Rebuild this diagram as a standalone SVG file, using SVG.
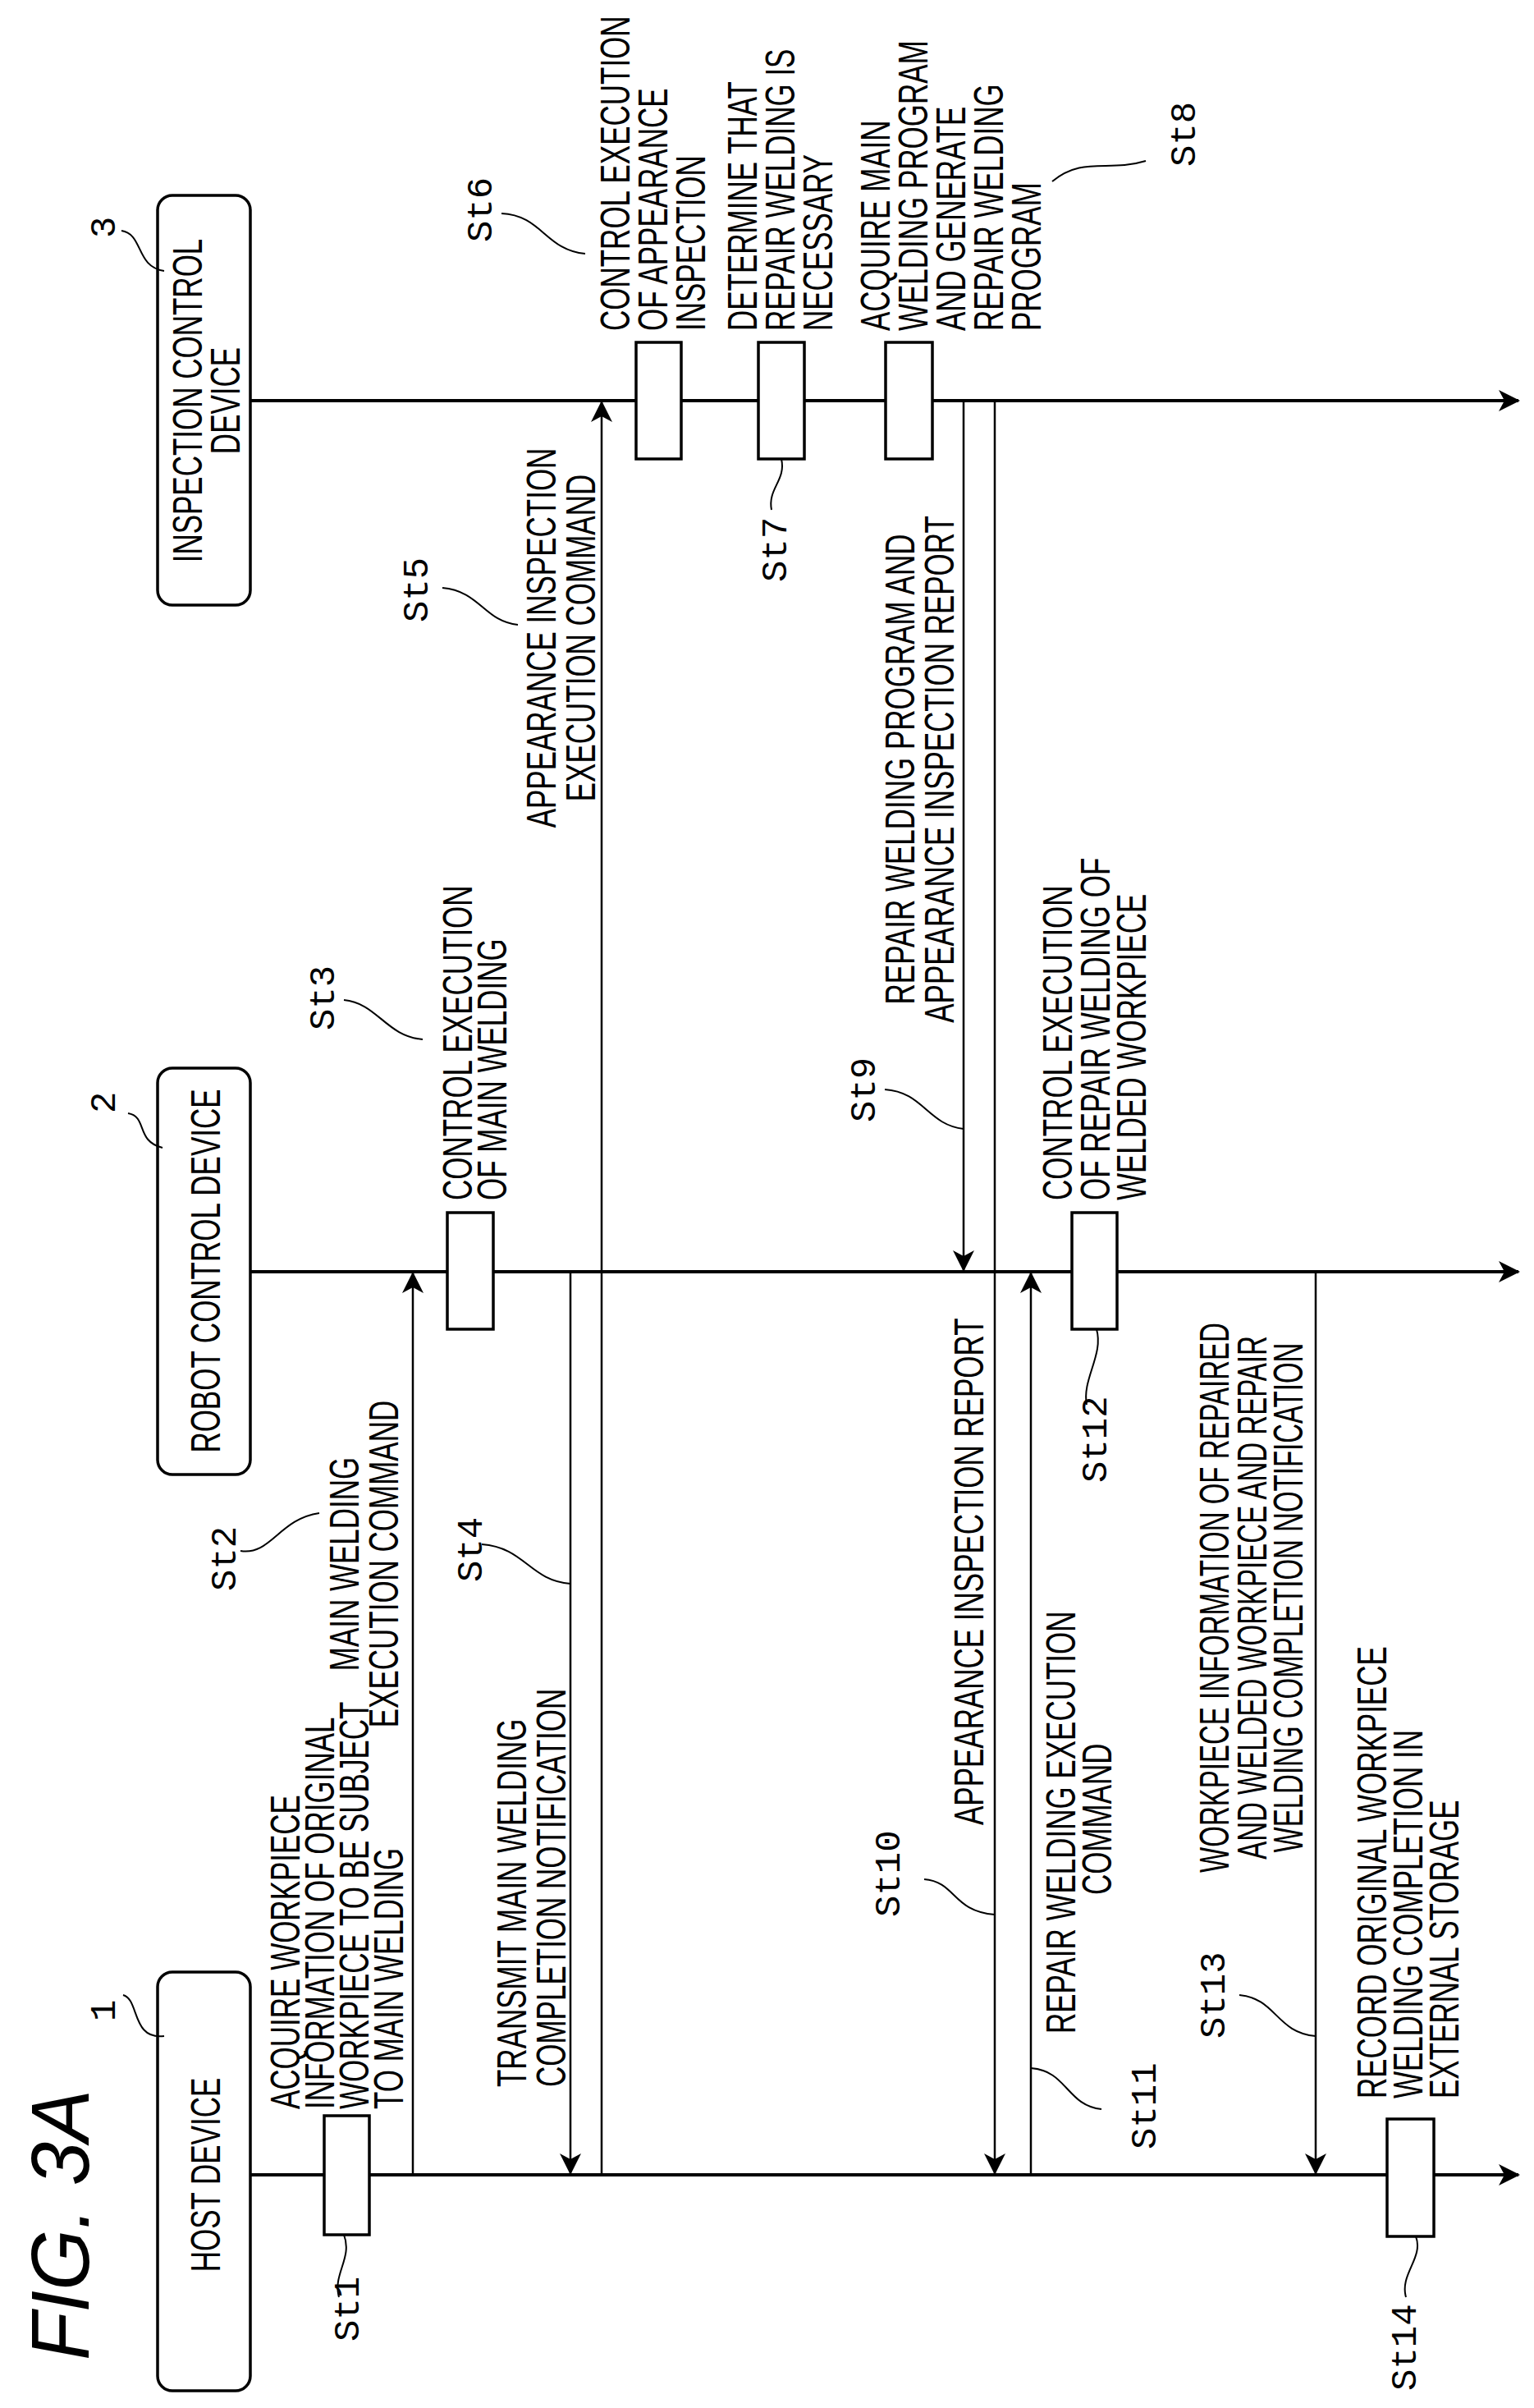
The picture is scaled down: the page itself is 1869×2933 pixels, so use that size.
<svg xmlns="http://www.w3.org/2000/svg" width="1869" height="2933" viewBox="0 0 1869 2933">
<style>
.t{font-family:"Liberation Sans",Arial,sans-serif;font-size:50px;fill:#000}
.m{text-anchor:middle}
.e{text-anchor:end}
.s{font-family:"Liberation Mono","Courier New",monospace;font-size:44px;fill:#000}
.ln{stroke:#000;stroke-width:4;fill:none}
.th{stroke:#000;stroke-width:2.5;fill:none}
.ld{stroke:#000;stroke-width:2;fill:none}
.bx{fill:#fff;stroke:#000;stroke-width:3.5}
</style>
<defs>
<marker id="ahL" markerWidth="26" markerHeight="26" refX="24" refY="13" orient="auto" markerUnits="userSpaceOnUse" viewBox="0 0 26 26">
<path d="M0,0 L26,13 L0,26 L7,13 Z" fill="#000"/>
</marker>
</defs>
<text transform="translate(108,2875) rotate(-90)" style="font-family:'Liberation Sans',Arial,sans-serif;font-size:100px;font-style:italic" textLength="330" lengthAdjust="spacingAndGlyphs">FIG. 3A</text>

<g id="lifelines">
<line class="ln" x1="305" y1="2649" x2="1850" y2="2649" marker-end="url(#ahL)"/>
<line class="ln" x1="305" y1="1549" x2="1850" y2="1549" marker-end="url(#ahL)"/>
<line class="ln" x1="305" y1="488" x2="1850" y2="488" marker-end="url(#ahL)"/>
</g>

<g id="connectors">
<line class="th" x1="503" y1="2649" x2="503" y2="1551" marker-end="url(#ahL)"/>
<line class="th" x1="695" y1="1549" x2="695" y2="2647" marker-end="url(#ahL)"/>
<line class="th" x1="733" y1="2649" x2="733" y2="490" marker-end="url(#ahL)"/>
<line class="th" x1="1174" y1="488" x2="1174" y2="1547" marker-end="url(#ahL)"/>
<line class="th" x1="1212" y1="488" x2="1212" y2="2647" marker-end="url(#ahL)"/>
<line class="th" x1="1256" y1="2649" x2="1256" y2="1551" marker-end="url(#ahL)"/>
<line class="th" x1="1603" y1="1549" x2="1603" y2="2647" marker-end="url(#ahL)"/>
</g>

<g id="node-host">
<rect x="192" y="2402" width="113" height="510" rx="18" class="bx"/>
<text class="t m" transform="translate(268,2649) rotate(-90) scale(0.7,1)">HOST DEVICE</text>
<text class="s" transform="translate(140,2462) rotate(-90)">1</text>
<path class="ld" d="M150,2430 C170,2435 160,2485 200,2480"/>
</g>
<g id="node-robot">
<rect x="192" y="1301" width="113" height="495" rx="18" class="bx"/>
<text class="t m" transform="translate(268,1548) rotate(-90) scale(0.7,1)">ROBOT CONTROL DEVICE</text>
<text class="s" transform="translate(140,1356) rotate(-90)">2</text>
<path class="ld" d="M156,1356 C180,1360 165,1390 198,1398"/>
</g>
<g id="node-inspection">
<rect x="192" y="238" width="113" height="499" rx="18" class="bx"/>
<text class="t m" transform="translate(246,488) rotate(-90) scale(0.7,1)">INSPECTION CONTROL</text>
<text class="t m" transform="translate(292,488) rotate(-90) scale(0.7,1)">DEVICE</text>
<text class="s" transform="translate(140,290) rotate(-90)">3</text>
<path class="ld" d="M148,281 C175,285 165,325 200,330"/>
</g>

<g id="st1">
<rect x="395" y="2577" width="55" height="145" class="bx"/>
<text class="t" transform="translate(365,2569) rotate(-90) scale(0.7,1)">ACQUIRE WORKPIECE</text>
<text class="t" transform="translate(407,2569) rotate(-90) scale(0.7,1)">INFORMATION OF ORIGINAL</text>
<text class="t" transform="translate(449,2569) rotate(-90) scale(0.7,1)">WORKPIECE TO BE SUBJECT</text>
<text class="t" transform="translate(491,2569) rotate(-90) scale(0.7,1)">TO MAIN WELDING</text>
<text class="s" transform="translate(437,2852) rotate(-90)">St1</text>
<path class="ld" d="M419,2722 C430,2750 405,2770 413,2798"/>
</g>
<g id="st2">
<text class="t m" transform="translate(437,1905) rotate(-90) scale(0.7,1)">MAIN WELDING</text>
<text class="t m" transform="translate(485,1905) rotate(-90) scale(0.7,1)">EXECUTION COMMAND</text>
<text class="s" transform="translate(287,1938) rotate(-90)">St2</text>
<path class="ld" d="M293,1889 C330,1895 340,1850 389,1843"/>
</g>
<g id="st3">
<rect x="545" y="1477" width="56" height="142" class="bx"/>
<text class="t" transform="translate(575,1462) rotate(-90) scale(0.7,1)">CONTROL EXECUTION</text>
<text class="t" transform="translate(617,1462) rotate(-90) scale(0.7,1)">OF MAIN WELDING</text>
<text class="s" transform="translate(407,1255) rotate(-90)">St3</text>
<path class="ld" d="M419,1218 C460,1222 470,1262 515,1266"/>
</g>
<g id="st4">
<text class="t" transform="translate(641,2542) rotate(-90) scale(0.7,1)">TRANSMIT MAIN WELDING</text>
<text class="t" transform="translate(689,2542) rotate(-90) scale(0.7,1)">COMPLETION NOTIFICATION</text>
<text class="s" transform="translate(587,1927) rotate(-90)">St4</text>
<path class="ld" d="M587,1881 C640,1885 645,1925 695,1929"/>
</g>
<g id="st5">
<text class="t m" transform="translate(677,777) rotate(-90) scale(0.7,1)">APPEARANCE INSPECTION</text>
<text class="t m" transform="translate(725,777) rotate(-90) scale(0.7,1)">EXECUTION COMMAND</text>
<text class="s" transform="translate(521,758) rotate(-90)">St5</text>
<path class="ld" d="M539,716 C585,720 590,757 631,761"/>
</g>
<g id="st6">
<rect x="775" y="417" width="55" height="142" class="bx"/>
<text class="t" transform="translate(767,403) rotate(-90) scale(0.7,1)">CONTROL EXECUTION</text>
<text class="t" transform="translate(813,403) rotate(-90) scale(0.7,1)">OF APPEARANCE</text>
<text class="t" transform="translate(859,403) rotate(-90) scale(0.7,1)">INSPECTION</text>
<text class="s" transform="translate(599,295) rotate(-90)">St6</text>
<path class="ld" d="M611,260 C660,262 665,305 713,309"/>
</g>
<g id="st7">
<rect x="924" y="417" width="56" height="142" class="bx"/>
<text class="t" transform="translate(922,403) rotate(-90) scale(0.7,1)">DETERMINE THAT</text>
<text class="t" transform="translate(968,403) rotate(-90) scale(0.7,1)">REPAIR WELDING IS</text>
<text class="t" transform="translate(1014,403) rotate(-90) scale(0.7,1)">NECESSARY</text>
<text class="s" transform="translate(958,709) rotate(-90)">St7</text>
<path class="ld" d="M952,559 C958,585 935,595 940,621"/>
</g>
<g id="st8">
<rect x="1079" y="417" width="57" height="142" class="bx"/>
<text class="t" transform="translate(1084,403) rotate(-90) scale(0.7,1)">ACQUIRE MAIN</text>
<text class="t" transform="translate(1130,403) rotate(-90) scale(0.7,1)">WELDING PROGRAM</text>
<text class="t" transform="translate(1176,403) rotate(-90) scale(0.7,1)">AND GENERATE</text>
<text class="t" transform="translate(1222,403) rotate(-90) scale(0.7,1)">REPAIR WELDING</text>
<text class="t" transform="translate(1268,403) rotate(-90) scale(0.7,1)">PROGRAM</text>
<text class="s" transform="translate(1456,203) rotate(-90)">St8</text>
<path class="ld" d="M1282,221 C1320,190 1350,210 1396,196"/>
</g>
<g id="st9">
<text class="t m" transform="translate(1114,937) rotate(-90) scale(0.7,1)">REPAIR WELDING PROGRAM AND</text>
<text class="t m" transform="translate(1162,937) rotate(-90) scale(0.7,1)">APPEARANCE INSPECTION REPORT</text>
<text class="s" transform="translate(1066,1367) rotate(-90)">St9</text>
<path class="ld" d="M1078,1327 C1125,1330 1130,1370 1174,1375"/>
</g>
<g id="st10">
<text class="t" transform="translate(1198,2223) rotate(-90) scale(0.7,1)">APPEARANCE INSPECTION REPORT</text>
<text class="s" transform="translate(1096,2335) rotate(-90)">St10</text>
<path class="ld" d="M1212,2332 C1160,2328 1165,2292 1126,2289"/>
</g>
<g id="st11">
<text class="t" transform="translate(1310,2477) rotate(-90) scale(0.7,1)">REPAIR WELDING EXECUTION</text>
<text class="t" transform="translate(1354,2308) rotate(-90) scale(0.7,1)">COMMAND</text>
<text class="s" transform="translate(1408,2618) rotate(-90)">St11</text>
<path class="ld" d="M1256,2519 C1300,2522 1300,2565 1342,2569"/>
</g>
<g id="st12">
<rect x="1306" y="1477" width="55" height="142" class="bx"/>
<text class="t" transform="translate(1306,1462) rotate(-90) scale(0.7,1)">CONTROL EXECUTION</text>
<text class="t" transform="translate(1352,1462) rotate(-90) scale(0.7,1)">OF REPAIR WELDING OF</text>
<text class="t" transform="translate(1396,1462) rotate(-90) scale(0.7,1)">WELDED WORKPIECE</text>
<text class="s" transform="translate(1348,1806) rotate(-90)">St12</text>
<path class="ld" d="M1336,1619 C1345,1650 1318,1680 1324,1711"/>
</g>
<g id="st13">
<text class="t m" transform="translate(1497,1946) rotate(-90) scale(0.66,1)">WORKPIECE INFORMATION OF REPAIRED</text>
<text class="t m" transform="translate(1543,1946) rotate(-90) scale(0.66,1)">AND WELDED WORKPIECE AND REPAIR</text>
<text class="t m" transform="translate(1587,1946) rotate(-90) scale(0.66,1)">WELDING COMPLETION NOTIFICATION</text>
<text class="s" transform="translate(1492,2483) rotate(-90)">St13</text>
<path class="ld" d="M1603,2480 C1555,2476 1555,2434 1510,2430"/>
</g>
<g id="st14">
<rect x="1690" y="2581" width="57" height="143" class="bx"/>
<text class="t" transform="translate(1689,2556) rotate(-90) scale(0.7,1)">RECORD ORIGINAL WORKPIECE</text>
<text class="t" transform="translate(1733,2556) rotate(-90) scale(0.7,1)">WELDING COMPLETION IN</text>
<text class="t" transform="translate(1777,2556) rotate(-90) scale(0.7,1)">EXTERNAL STORAGE</text>
<text class="s" transform="translate(1725,2912) rotate(-90)">St14</text>
<path class="ld" d="M1725,2724 C1735,2750 1705,2770 1713,2798"/>
</g>
</svg>
